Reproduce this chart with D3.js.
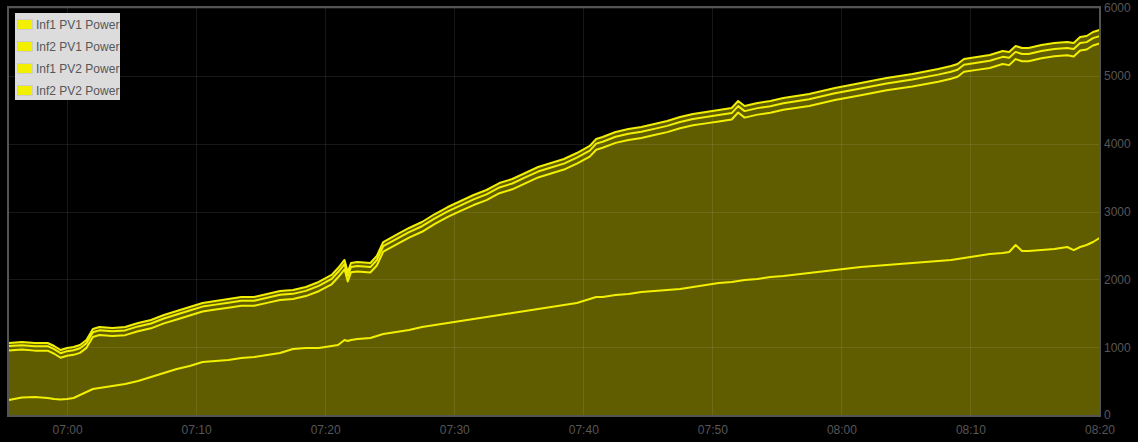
<!DOCTYPE html>
<html>
<head>
<meta charset="utf-8">
<script src="https://cdn.jsdelivr.net/npm/d3@7"></script>
<style>
  html, body { margin: 0; padding: 0; background: #000; }
  svg { display: block; }
  text { font-family: "Liberation Sans", Arial, sans-serif; }
</style>
</head>
<body>
<svg id="chart" width="1138" height="442"></svg>
<script>
const seriesNames = ["Inf1 PV1 Power", "Inf2 PV1 Power", "Inf1 PV2 Power", "Inf2 PV2 Power"];

const times = [
  "06:55:30","06:56:30","06:57:30","06:58:30","06:59:00","06:59:30","07:00:00","07:00:30","07:01:00","07:01:30","07:02:00","07:02:30",
  "07:03:30","07:04:30","07:05:30","07:06:30","07:07:30","07:08:30","07:09:30","07:10:30","07:11:30","07:12:30","07:13:30","07:14:30",
  "07:15:30","07:16:30","07:17:30","07:18:30","07:19:30","07:20:30","07:21:00","07:21:30","07:21:45","07:22:00","07:22:30","07:23:30",
  "07:24:00","07:24:30","07:25:30","07:26:30","07:27:30","07:28:30","07:29:30","07:30:30","07:31:30","07:32:30","07:33:30","07:34:30",
  "07:35:30","07:36:30","07:37:30","07:38:30","07:39:30","07:40:30","07:41:00","07:41:30","07:42:30","07:43:30","07:44:30","07:45:30",
  "07:46:30","07:47:30","07:48:30","07:49:30","07:50:30","07:51:30","07:52:00","07:52:30","07:53:30","07:54:30","07:55:30","07:57:30",
  "07:59:30","08:01:30","08:03:30","08:05:30","08:07:30","08:08:30","08:09:00","08:09:30","08:10:30","08:11:30","08:12:30","08:13:00",
  "08:13:30","08:14:00","08:14:30","08:15:30","08:16:30","08:17:30","08:18:00","08:18:30","08:19:00","08:19:30","08:20:00"
];

const inf1pv1 = [
  221,258,265,251,236,229,236,251,295,339,383,398,
  428,457,501,560,619,678,722,781,796,811,840,855,
  885,914,973,988,988,1017,1032,1106,1091,1106,1120,1135,
  1165,1194,1224,1253,1297,1327,1356,1386,1415,1445,1474,1504,
  1533,1563,1592,1622,1651,1710,1740,1740,1769,1784,1813,1828,
  1843,1857,1887,1916,1946,1961,1975,1990,2005,2034,2049,2093,
  2138,2182,2211,2241,2270,2285,2300,2314,2344,2373,2388,2403,
  2506,2418,2418,2432,2447,2477,2432,2477,2506,2550,2609
];

const inf2pv1 = [
  951,965,949,948,903,844,873,887,916,990,1151,1180,
  1164,1177,1235,1278,1351,1409,1467,1525,1554,1582,1611,1610,
  1653,1696,1710,1753,1825,1927,2030,2147,1970,2103,2117,2101,
  2204,2409,2512,2614,2701,2818,2920,3008,3095,3168,3270,3327,
  3415,3502,3560,3618,3705,3808,3911,3939,4012,4055,4084,4127,
  4170,4228,4271,4299,4327,4356,4459,4384,4428,4456,4499,4556,
  4643,4714,4786,4842,4914,4957,4986,5059,5088,5116,5174,5158,
  5247,5216,5216,5260,5288,5302,5286,5374,5388,5447,5476
];

const inf1pv2 = [
  1016,1030,1015,1014,970,911,941,954,984,1058,1220,1248,
  1234,1247,1306,1349,1423,1481,1540,1598,1627,1656,1685,1685,
  1728,1772,1786,1830,1903,2006,2108,2226,2049,2182,2197,2181,
  2284,2490,2593,2695,2783,2900,3003,3091,3179,3252,3355,3413,
  3502,3589,3648,3706,3794,3897,4000,4029,4102,4145,4175,4218,
  4262,4320,4364,4393,4422,4451,4554,4480,4524,4553,4596,4654,
  4742,4814,4887,4945,5018,5061,5090,5164,5193,5222,5280,5265,
  5353,5323,5323,5367,5396,5410,5395,5483,5497,5556,5586
];

const inf2pv2 = [
  1061,1076,1061,1061,1017,958,988,1002,1032,1106,1268,1297,
  1283,1297,1356,1400,1474,1533,1592,1651,1681,1710,1740,1740,
  1784,1828,1843,1887,1961,2064,2167,2285,2108,2241,2256,2241,
  2344,2550,2654,2757,2845,2963,3066,3155,3243,3317,3420,3479,
  3568,3656,3715,3774,3862,3966,4069,4098,4172,4216,4246,4290,
  4334,4393,4437,4467,4496,4526,4629,4555,4600,4629,4673,4732,
  4821,4894,4968,5027,5101,5145,5174,5248,5278,5307,5366,5351,
  5440,5410,5410,5455,5484,5499,5484,5572,5587,5646,5676
];

const yTicks = [0, 1000, 2000, 3000, 4000, 5000, 6000];
const xTickLabels = ["07:00","07:10","07:20","07:30","07:40","07:50","08:00","08:10","08:20"];

const parse = d3.timeParse("%H:%M:%S");
const T = times.map(parse);
const allSeries = [inf1pv1, inf2pv1, inf1pv2, inf2pv2];

const svg = d3.select("#chart");
const plotLeft = 9, plotRight = 1099.5, plotTop = 8, plotBottom = 415;

const x = d3.scaleTime().domain(d3.extent(T)).range([plotLeft, plotRight]);
const y = d3.scaleLinear().domain([0, 6000]).range([plotBottom, plotTop]);

const FILL = "#605c00";
const LINE = "#f2f000";
const TEXT = "#575757";

// areas
const area = d3.area().x((d, i) => x(T[i])).y0(y(0)).y1(d => y(d));
svg.append("g").selectAll("path").data(allSeries).join("path")
  .attr("d", area).attr("fill", FILL).attr("stroke", "none");

// grid
const xTickDates = xTickLabels.map(s => parse(s + ":00"));
const grid = svg.append("g").attr("stroke", "#fff").attr("stroke-opacity", 0.09).attr("stroke-width", 1);
grid.selectAll("line.v").data(xTickDates).join("line")
  .attr("x1", d => Math.round(x(d)) + 0.5).attr("x2", d => Math.round(x(d)) + 0.5)
  .attr("y1", plotTop).attr("y2", plotBottom);
grid.selectAll("line.h").data(yTicks).join("line")
  .attr("x1", plotLeft).attr("x2", plotRight)
  .attr("y1", d => Math.round(y(d)) + 0.5).attr("y2", d => Math.round(y(d)) + 0.5);

// lines
const line = d3.line().x((d, i) => x(T[i])).y(d => y(d));
svg.append("g").selectAll("path").data(allSeries).join("path")
  .attr("d", line).attr("fill", "none").attr("stroke", LINE)
  .attr("stroke-width", 2).attr("stroke-linejoin", "round");

// frame
svg.append("rect").attr("x", 8).attr("y", 7).attr("width", 1092).attr("height", 409)
  .attr("fill", "none").attr("stroke", "#545454").attr("stroke-width", 2);

// y axis labels (right)
const yAxis = d3.axisRight(y).tickValues(yTicks).tickFormat(d3.format("d")).tickSize(0).tickPadding(4);
const yg = svg.append("g").attr("transform", `translate(1100,0)`).call(yAxis);
yg.select(".domain").remove();
yg.selectAll("text").attr("fill", TEXT).style("font-size", "12px")
  .style("font-family", '"Liberation Sans", Arial, sans-serif');

// x axis labels
const xAxis = d3.axisBottom(x).tickValues(xTickDates).tickFormat(d3.timeFormat("%H:%M")).tickSize(0).tickPadding(10);
const xg = svg.append("g").attr("transform", `translate(0,${plotBottom})`).call(xAxis);
xg.select(".domain").remove();
xg.selectAll("text").attr("fill", TEXT).style("font-size", "12px")
  .style("font-family", '"Liberation Sans", Arial, sans-serif');

// legend
const lg = svg.append("g");
lg.append("rect").attr("x", 15).attr("y", 13).attr("width", 105).attr("height", 87).attr("fill", "#dcdcdc");
const rows = lg.selectAll("g.row").data(seriesNames).join("g")
  .attr("transform", (d, i) => `translate(0,${i * 22})`);
rows.append("rect").attr("x", 17.5).attr("y", 19.5).attr("width", 15).attr("height", 10)
  .attr("fill", "#f2f000").attr("stroke", "#cccccc").attr("stroke-width", 1);
rows.append("text").attr("x", 36).attr("y", 28.5).text(d => d)
  .attr("fill", TEXT).style("font-size", "12px");
</script>
</body>
</html>
